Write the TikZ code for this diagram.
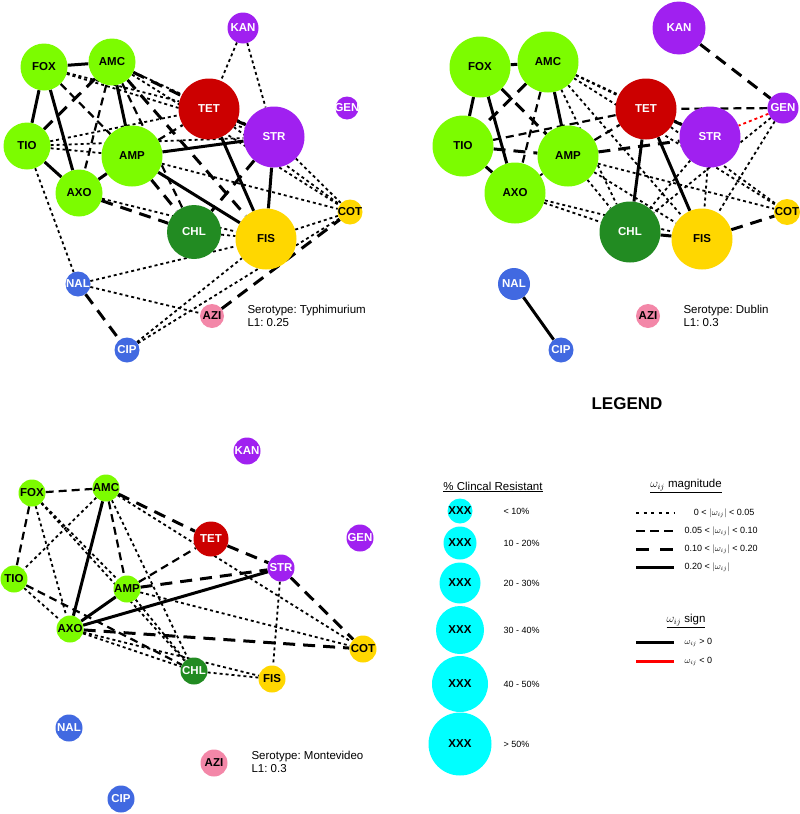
\documentclass[tikz,border=0pt]{standalone}
\usepackage{fontspec}
\setmainfont{Liberation Sans}
\usepackage{tikz}
\usetikzlibrary{backgrounds}
\definecolor{cgrn}{RGB}{124,252,0}
\definecolor{cred}{RGB}{204,0,0}
\definecolor{cpur}{RGB}{160,32,240}
\definecolor{cdkg}{RGB}{34,139,34}
\definecolor{cgld}{RGB}{255,215,0}
\definecolor{cblu}{RGB}{65,105,225}
\definecolor{cpnk}{RGB}{243,135,168}
\definecolor{ccyn}{RGB}{0,255,255}
\newcommand{\dl}[1]{\makebox[0pt]{#1}}
\frenchspacing

\begin{document}
\begin{tikzpicture}[x=1pt,y=-1pt,
  drug/.style={circle,inner sep=0pt,font=\bfseries\fontsize{11.5}{12}\selectfont},
  lt/.style={drug,text=white},
  e1/.style={line width=1.8pt,dash pattern=on 3pt off 3pt},
  e2/.style={line width=2.2pt,dash pattern=on 8pt off 5pt},
  e3/.style={line width=3pt,dash pattern=on 12pt off 8pt},
  e4/.style={line width=3pt},
  ser/.style={anchor=west,align=left,font=\fontsize{11.5}{13}\selectfont},
  rng/.style={anchor=west,font=\fontsize{9}{10}\selectfont}]
 \useasboundingbox (0,0) rectangle (800,814);
 % Typhimurium
 \node[drug,fill=cgrn,minimum size=47pt] (tFOX) at (44,67) {\dl{FOX}};
 \node[drug,fill=cgrn,minimum size=47pt] (tAMC) at (112,62) {\dl{AMC}};
 \node[lt,fill=cred,minimum size=61pt] (tTET) at (209,109) {\dl{TET}};
 \node[lt,fill=cpur,minimum size=31pt] (tKAN) at (243,28) {\dl{KAN}};
 \node[lt,fill=cpur,minimum size=23pt] (tGEN) at (347,108) {\dl{GEN}};
 \node[lt,fill=cpur,minimum size=61pt] (tSTR) at (274,137) {\dl{STR}};
 \node[drug,fill=cgrn,minimum size=47pt] (tTIO) at (27,146) {\dl{TIO}};
 \node[drug,fill=cgrn,minimum size=61pt] (tAMP) at (132,156) {\dl{AMP}};
 \node[drug,fill=cgrn,minimum size=47pt] (tAXO) at (79,193) {\dl{AXO}};
 \node[lt,fill=cdkg,minimum size=54pt] (tCHL) at (194,232) {\dl{CHL}};
 \node[drug,fill=cgld,minimum size=61pt] (tFIS) at (266,239) {\dl{FIS}};
 \node[drug,fill=cgld,minimum size=25pt] (tCOT) at (350,212) {\dl{COT}};
 \node[lt,fill=cblu,minimum size=25pt] (tNAL) at (78,284) {\dl{NAL}};
 \node[drug,fill=cpnk,minimum size=24pt] (tAZI) at (212,316) {\dl{AZI}};
 \node[lt,fill=cblu,minimum size=25pt] (tCIP) at (127,350) {\dl{CIP}};
 \node[ser] (tser) at (244,316) {Serotype: Typhimurium\\L1: 0.25};
 % Dublin
 \node[drug,fill=cgrn,minimum size=61pt] (dFOX) at (480,67) {\dl{FOX}};
 \node[drug,fill=cgrn,minimum size=61pt] (dAMC) at (548,62) {\dl{AMC}};
 \node[lt,fill=cred,minimum size=61pt] (dTET) at (646,109) {\dl{TET}};
 \node[lt,fill=cpur,minimum size=53pt] (dKAN) at (679,28) {\dl{KAN}};
 \node[lt,fill=cpur,minimum size=31pt] (dGEN) at (783,108) {\dl{GEN}};
 \node[lt,fill=cpur,minimum size=61pt] (dSTR) at (710,137) {\dl{STR}};
 \node[drug,fill=cgrn,minimum size=61pt] (dTIO) at (463,146) {\dl{TIO}};
 \node[drug,fill=cgrn,minimum size=61pt] (dAMP) at (568,156) {\dl{AMP}};
 \node[drug,fill=cgrn,minimum size=61pt] (dAXO) at (515,193) {\dl{AXO}};
 \node[lt,fill=cdkg,minimum size=61pt] (dCHL) at (630,232) {\dl{CHL}};
 \node[drug,fill=cgld,minimum size=61pt] (dFIS) at (702,239) {\dl{FIS}};
 \node[drug,fill=cgld,minimum size=26pt] (dCOT) at (787,212) {\dl{COT}};
 \node[lt,fill=cblu,minimum size=32pt] (dNAL) at (514,284) {\dl{NAL}};
 \node[drug,fill=cpnk,minimum size=24pt] (dAZI) at (648,316) {\dl{AZI}};
 \node[lt,fill=cblu,minimum size=25pt] (dCIP) at (561,350) {\dl{CIP}};
 \node[ser] (dser) at (680,316) {Serotype: Dublin\\L1: 0.3};
 % Montevideo
 \node[lt,fill=cpur,minimum size=27pt] (mKAN) at (247,451) {\dl{KAN}};
 \node[drug,fill=cgrn,minimum size=27pt] (mFOX) at (32,493) {\dl{FOX}};
 \node[drug,fill=cgrn,minimum size=27pt] (mAMC) at (106,488) {\dl{AMC}};
 \node[lt,fill=cred,minimum size=35pt] (mTET) at (211,539) {\dl{TET}};
 \node[lt,fill=cpur,minimum size=27pt] (mGEN) at (360,538) {\dl{GEN}};
 \node[lt,fill=cpur,minimum size=27pt] (mSTR) at (281,568) {\dl{STR}};
 \node[drug,fill=cgrn,minimum size=27pt] (mTIO) at (14,579) {\dl{TIO}};
 \node[drug,fill=cgrn,minimum size=27pt] (mAMP) at (127,589) {\dl{AMP}};
 \node[drug,fill=cgrn,minimum size=27pt] (mAXO) at (70,629) {\dl{AXO}};
 \node[lt,fill=cdkg,minimum size=27pt] (mCHL) at (194,671) {\dl{CHL}};
 \node[drug,fill=cgld,minimum size=27pt] (mFIS) at (272,679) {\dl{FIS}};
 \node[drug,fill=cgld,minimum size=27pt] (mCOT) at (363,649) {\dl{COT}};
 \node[lt,fill=cblu,minimum size=27pt] (mNAL) at (69,728) {\dl{NAL}};
 \node[drug,fill=cpnk,minimum size=27pt] (mAZI) at (214,763) {\dl{AZI}};
 \node[lt,fill=cblu,minimum size=27pt] (mCIP) at (121,799) {\dl{CIP}};
 \node[ser] (mser) at (248,762) {Serotype: Montevideo\\L1: 0.3};

 \begin{scope}[on background layer]
 % Typhimurium edges
 \draw[e4] (tFOX) -- (tAMC);
 \draw[e4] (tFOX) -- (tTIO);
 \draw[e4] (tFOX) -- (tAXO);
 \draw[e4] (tAMC) -- (tAMP);
 \draw[e4] (tTIO) -- (tAXO);
 \draw[e4] (tAXO) -- (tAMP);
 \draw[e4] (tAMP) -- (tSTR);
 \draw[e4] (tAMP) -- (tFIS);
 \draw[e4] (tTET) -- (tFIS);
 \draw[e4] (tTET) -- (tSTR);
 \draw[e4] (tSTR) -- (tFIS);
 \draw[e3] (tAMC) -- (tTIO);
 \draw[e3] (tAMC) -- (tTET);
 \draw[e3] (tAMC) -- (tFIS);
 \draw[e3] (tAMP) -- (tCHL);
 \draw[e3] (tAXO) -- (tCHL);
 \draw[e3] (tSTR) -- (tCHL);
 \draw[e3] (tNAL) -- (tCIP);
 \draw[e3] (tAZI) -- (tCOT);
 \draw[e2] (tFOX) -- (tAMP);
 \draw[e2] (tAMC) -- (tAXO);
 \draw[e2] (tAMC) -- (tCHL);
 \draw[e2] (tAMP) -- (tTET);
 \draw[e1] (tFOX) -- (tTET);
 \draw[e1] (tFOX) -- (tSTR);
 \draw[e1] (tAMC) -- (tSTR);
 \draw[e1] (tAMC) -- (tCOT);
 \draw[e1] (tTIO) -- (tAMP);
 \draw[e1] (tTIO) -- (tSTR);
 \draw[e1] (tTIO) -- (tTET);
 \draw[e1] (tTIO) -- (tNAL);
 \draw[e1] (tAXO) -- (tFIS);
 \draw[e1] (tAMP) -- (tCOT);
 \draw[e1] (tTET) -- (tCOT);
 \draw[e1] (tSTR) -- (tCOT);
 \draw[e1] (tKAN) -- (tTET);
 \draw[e1] (tKAN) -- (tSTR);
 \draw[e1] (tCHL) -- (tFIS);
 \draw[e1] (tNAL) -- (tFIS);
 \draw[e1] (tNAL) -- (tAZI);
 \draw[e1] (tCIP) -- (tFIS);
 \draw[e1] (tCIP) -- (tCOT);
 \draw[e1] (tFIS) -- (tCOT);
 % Dublin edges
 \draw[e4] (dFOX) -- (dAMC);
 \draw[e4] (dFOX) -- (dTIO);
 \draw[e4] (dFOX) -- (dAXO);
 \draw[e4] (dAMC) -- (dAMP);
 \draw[e4] (dTIO) -- (dAXO);
 \draw[e4] (dTET) -- (dCHL);
 \draw[e4] (dTET) -- (dFIS);
 \draw[e4] (dTET) -- (dSTR);
 \draw[e4] (dCHL) -- (dFIS);
 \draw[e4] (dNAL) -- (dCIP);
 \draw[e3] (dKAN) -- (dGEN);
 \draw[e3] (dAMC) -- (dTIO);
 \draw[e3] (dFOX) -- (dAMP);
 \draw[e3] (dTIO) -- (dAMP);
 \draw[e3] (dAMP) -- (dSTR);
 \draw[e3] (dFIS) -- (dCOT);
 \draw[e2] (dAMC) -- (dAXO);
 \draw[e2] (dTIO) -- (dTET);
 \draw[e2] (dAMP) -- (dTET);
 \draw[e2] (dGEN) -- (dTET);
 \draw[e1] (dAMC) -- (dTET);
 \draw[e1] (dAMC) -- (dSTR);
 \draw[e1] (dAMC) -- (dCHL);
 \draw[e1] (dAMC) -- (dFIS);
 \draw[e1] (dAMC) -- (dCOT);
 \draw[e1] (dAXO) -- (dAMP);
 \draw[e1] (dAXO) -- (dCHL);
 \draw[e1] (dAXO) -- (dFIS);
 \draw[e1] (dAMP) -- (dCHL);
 \draw[e1] (dAMP) -- (dFIS);
 \draw[e1] (dAMP) -- (dCOT);
 \draw[e1] (dTET) -- (dCOT);
 \draw[e1] (dSTR) -- (dFIS);
 \draw[e1] (dSTR) -- (dCHL);
 \draw[e1] (dGEN) -- (dFIS);
 \draw[e1] (dGEN) -- (dCHL);
 \draw[e1,red] (dGEN) -- (dSTR);
 % Montevideo edges
 \draw[e4] (mAMC) -- (mAXO);
 \draw[e4] (mAXO) -- (mAMP);
 \draw[e4] (mAXO) -- (mSTR);
 \draw[e3] (mAMC) -- (mTET);
 \draw[e3] (mTET) -- (mSTR);
 \draw[e3] (mSTR) -- (mCOT);
 \draw[e3] (mAXO) -- (mCOT);
 \draw[e3] (mAMP) -- (mSTR);
 \draw[e2] (mFOX) -- (mAMC);
 \draw[e2] (mFOX) -- (mTIO);
 \draw[e2] (mAMC) -- (mAMP);
 \draw[e2] (mTIO) -- (mCHL);
 \draw[e2] (mAMP) -- (mTET);
 \draw[e1] (mFOX) -- (mAXO);
 \draw[e1] (mFOX) -- (mAMP);
 \draw[e1] (mFOX) -- (mCHL);
 \draw[e1] (mAMC) -- (mTIO);
 \draw[e1] (mAMC) -- (mCHL);
 \draw[e1] (mAMC) -- (mCOT);
 \draw[e1] (mTIO) -- (mAXO);
 \draw[e1] (mAXO) -- (mCHL);
 \draw[e1] (mAXO) -- (mFIS);
 \draw[e1] (mAMP) -- (mCOT);
 \draw[e1] (mAMP) -- (mCHL);
 \draw[e1] (mCHL) -- (mFIS);
 \draw[e1] (mSTR) -- (mFIS);
 \end{scope}

 % legend
 \node[font=\bfseries\fontsize{17}{17}\selectfont] (lgd) at (627,404) {LEGEND};
 \node[font=\fontsize{11.5}{12}\selectfont] (pct) at (493,487) {\underline{\% Clincal Resistant}};
 \node[drug,fill=ccyn,minimum size=25pt] (c1) at (460,511) {\dl{XXX}};
 \node[drug,fill=ccyn,minimum size=33pt] (c2) at (460,543) {\dl{XXX}};
 \node[drug,fill=ccyn,minimum size=41pt] (c3) at (460,583) {\dl{XXX}};
 \node[drug,fill=ccyn,minimum size=48pt] (c4) at (460,630) {\dl{XXX}};
 \node[drug,fill=ccyn,minimum size=56pt] (c5) at (460,684) {\dl{XXX}};
 \node[drug,fill=ccyn,minimum size=63pt] (c6) at (460,744) {\dl{XXX}};
 \node[rng] at (500,511) {< 10\%};
 \node[rng] at (500,543) {10 - 20\%};
 \node[rng] at (500,583) {20 - 30\%};
 \node[rng] at (500,630) {30 - 40\%};
 \node[rng] at (500,684) {40 - 50\%};
 \node[rng] at (500,744) {> 50\%};
 \node[font=\fontsize{11.5}{12}\selectfont] (mag) at (686,486) {\underline{$\omega_{ij}$ magnitude}};
 \draw[line width=1.8pt,dash pattern=on 3pt off 4.5pt] (636,513) -- (674,513);
 \draw[line width=2.2pt,dash pattern=on 9pt off 5pt] (636,531) -- (674,531);
 \draw[line width=3pt,dash pattern=on 13pt off 11pt] (636,549) -- (674,549);
 \draw[line width=3pt] (636,567) -- (674,567);
 \node[rng,anchor=east] at (758,513) {0 < $|\omega_{ij}|$ < 0.05};
 \node[rng] at (681,531) {0.05 < $|\omega_{ij}|$ < 0.10};
 \node[rng] at (681,549) {0.10 < $|\omega_{ij}|$ < 0.20};
 \node[rng] at (681,567) {0.20 < $|\omega_{ij}|$};
 \node[font=\fontsize{11.5}{12}\selectfont] (sgn) at (686,621) {\underline{$\omega_{ij}$ sign}};
 \draw[line width=3pt] (636,642) -- (674,642);
 \draw[line width=3pt,red] (636,661) -- (674,661);
 \node[rng] at (681,642) {$\omega_{ij}$ > 0};
 \node[rng] at (681,661) {$\omega_{ij}$ < 0};
\end{tikzpicture}
\end{document}
